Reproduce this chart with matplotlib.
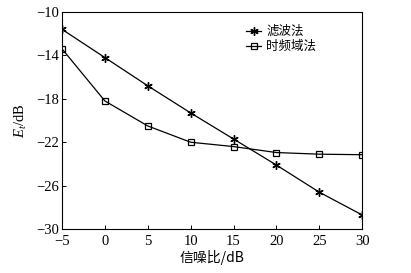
import matplotlib
matplotlib.use("Agg")
import matplotlib.pyplot as plt

snr = [-5, 0, 5, 10, 15, 20, 25, 30]
filter_vals = [-11.6, -14.2, -16.8, -19.3, -21.7, -24.1, -26.6, -28.7]
tf_vals = [-13.4, -18.2, -20.5, -22.0, -22.4, -22.95, -23.1, -23.15]
series_names = ["滤波法", "时频域法"]
xticks = [-5, 0, 5, 10, 15, 20, 25, 30]
yticks = [-30, -26, -22, -18, -14, -10]

plt.rcParams['font.family'] = ['Liberation Serif', 'Noto Sans CJK SC']
plt.rcParams['mathtext.fontset'] = 'custom'
plt.rcParams['mathtext.rm'] = 'Liberation Serif'
plt.rcParams['mathtext.it'] = 'Liberation Serif:italic'

fig = plt.figure(figsize=(4.11, 2.73), dpi=100)
ax = fig.add_axes([0.151, 0.161, 0.730, 0.795])

ax.plot(snr, filter_vals, color='black', lw=0.9, marker=(6, 2, 0), ms=6, mew=1.0,
        label=series_names[0])
ax.plot(snr, tf_vals, color='black', lw=0.9, marker='s', ms=4.5, mfc='none', mew=0.9,
        label=series_names[1])

ax.set_xlim(-5, 30)
ax.set_ylim(-30, -10)
ax.set_xticks(xticks)
ax.set_yticks(yticks)
ax.set_xticklabels([str(v).replace('-', '\u2212') for v in xticks], fontsize=10.5)
ax.set_yticklabels([str(v).replace('-', '\u2212') for v in yticks], fontsize=10.5)
ax.tick_params(direction='in', length=3, width=0.7, top=False, right=False)
ax.tick_params(axis='x', pad=4)
ax.tick_params(axis='y', pad=2)
for s in ax.spines.values():
    s.set_linewidth(0.8)

ax.set_xlabel("信噪比/dB", fontsize=10, family=['Noto Sans CJK SC', 'Liberation Serif'], labelpad=2)
ax.set_ylabel("$E_t$/dB", fontsize=10.5, labelpad=5)

leg = ax.legend(loc='upper left', bbox_to_anchor=(0.585, 0.98), frameon=False,
                prop={'family': ['Noto Sans CJK SC'], 'size': 9},
                handlelength=1.2, handletextpad=0.4, labelspacing=0.15, borderpad=0.2)

fig.savefig("out.png", dpi=100)
